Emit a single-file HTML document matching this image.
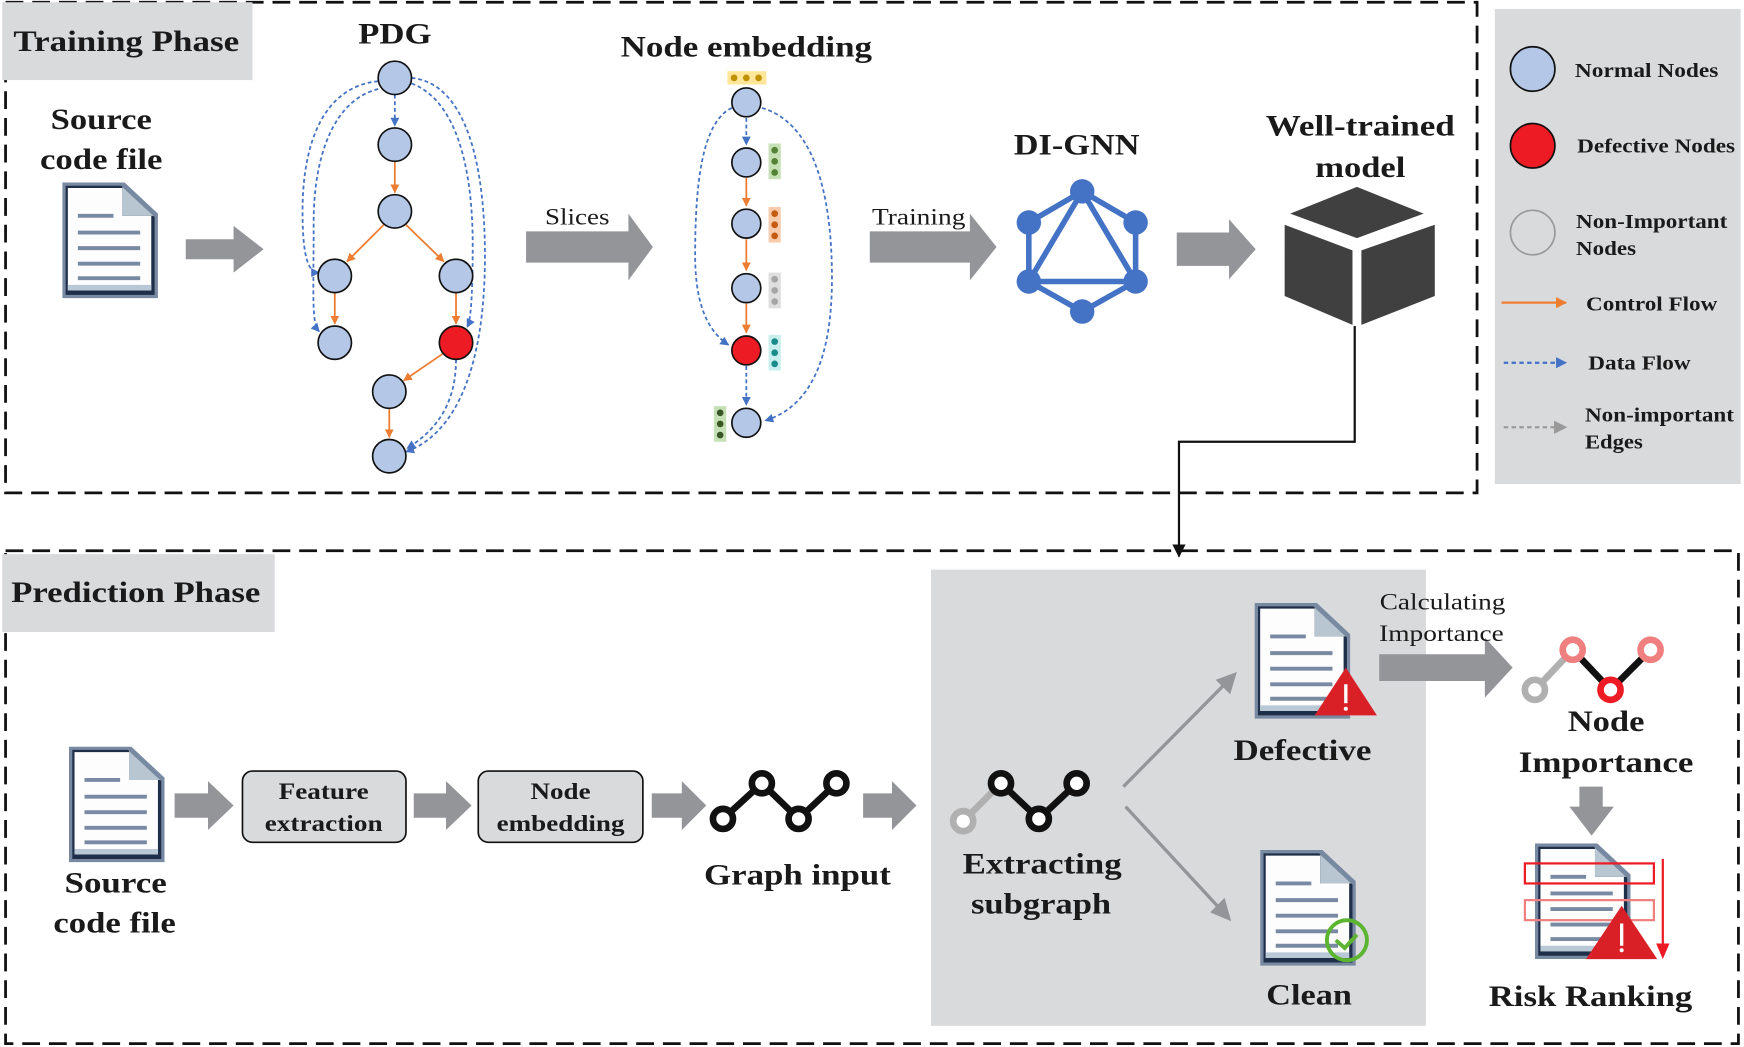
<!DOCTYPE html>
<html><head><meta charset="utf-8"><style>
html,body{margin:0;padding:0;background:#fff;}
svg{display:block;}
text{font-family:"Liberation Serif",serif;fill:#1a1a1a;}
.b{font-weight:bold;}
</style></head><body>
<svg width="1744" height="1047" viewBox="0 0 1568 941" preserveAspectRatio="none" xmlns="http://www.w3.org/2000/svg">
<defs>
<marker id="ao" viewBox="0 0 10 10" refX="9" refY="5" markerWidth="5" markerHeight="5" orient="auto"><path d="M0,0L10,5L0,10z" fill="#ed7d31"/></marker>
<marker id="ab" viewBox="0 0 10 10" refX="9" refY="5" markerWidth="5" markerHeight="5" orient="auto"><path d="M0,0L10,5L0,10z" fill="#4472c4"/></marker>
<marker id="ak" viewBox="0 0 10 10" refX="9" refY="5" markerWidth="6" markerHeight="6" orient="auto"><path d="M0,0L10,5L0,10z" fill="#111"/></marker>
<marker id="ag" viewBox="0 0 10 10" refX="9" refY="5" markerWidth="6" markerHeight="6" orient="auto"><path d="M0,0L10,5L0,10z" fill="#999"/></marker>
<symbol id="doc" viewBox="0 0 86 104">
<path d="M0,0H56L86,28V104H0Z" fill="#7889a2"/>
<path d="M3,3H53L83,31V101H3Z" fill="#1f2f4a"/>
<path d="M5,5H54V30H80V97H5Z" fill="#fdfdfd"/>
<path d="M5,92H80V97H5Z" fill="#b9c8d6"/>
<path d="M54,4L82,30H54Z" fill="#b8c6d2"/>
<g stroke="#7889a2" stroke-width="3.5"><line x1="14" y1="30" x2="46" y2="30"/><line x1="14" y1="45" x2="70" y2="45"/><line x1="14" y1="59" x2="70" y2="59"/><line x1="14" y1="73" x2="70" y2="73"/><line x1="14" y1="86" x2="70" y2="86"/></g>
</symbol>
</defs>

<rect x="5" y="2" width="1323" height="441" fill="none" stroke="#111" stroke-width="2.5" stroke-dasharray="16,8"/>
<rect x="5" y="495" width="1558" height="443" fill="none" stroke="#111" stroke-width="2.5" stroke-dasharray="16,8"/>
<rect x="2" y="2" width="225" height="70" fill="#d9dadc"/>
<text x="12" y="46" font-size="27" class="b" textLength="203" lengthAdjust="spacingAndGlyphs">Training Phase</text>
<rect x="2" y="498" width="245" height="70" fill="#d9dadc"/>
<text x="10" y="541" font-size="27" class="b" textLength="224" lengthAdjust="spacingAndGlyphs">Prediction Phase</text>
<rect x="837" y="512" width="445" height="410" fill="#d9dadc"/>

<!-- legend -->
<rect x="1344" y="8" width="221" height="427" fill="#d9dadc"/>
<circle cx="1378" cy="62" r="20" fill="#b4c7e7" stroke="#111" stroke-width="1.5"/>
<text x="1416" y="69" font-size="18" class="b" textLength="129" lengthAdjust="spacingAndGlyphs">Normal Nodes</text>
<circle cx="1378" cy="131" r="20" fill="#ed1c24" stroke="#111" stroke-width="1.5"/>
<text x="1418" y="137" font-size="18" class="b" textLength="142" lengthAdjust="spacingAndGlyphs">Defective Nodes</text>
<circle cx="1378" cy="209" r="20" fill="none" stroke="#999" stroke-width="1.5"/>
<text x="1417" y="205" font-size="18" class="b" textLength="136" lengthAdjust="spacingAndGlyphs">Non-Important</text>
<text x="1417" y="229" font-size="18" class="b" textLength="54" lengthAdjust="spacingAndGlyphs">Nodes</text>
<line x1="1350" y1="272" x2="1408" y2="272" stroke="#ed7d31" stroke-width="2" marker-end="url(#ao)"/>
<text x="1426" y="279" font-size="18" class="b" textLength="118" lengthAdjust="spacingAndGlyphs">Control Flow</text>
<line x1="1352" y1="326" x2="1408" y2="326" stroke="#4472c4" stroke-width="2" stroke-dasharray="4,3" marker-end="url(#ab)"/>
<text x="1428" y="332" font-size="18" class="b" textLength="92" lengthAdjust="spacingAndGlyphs">Data Flow</text>
<line x1="1352" y1="384" x2="1408" y2="384" stroke="#999" stroke-width="2" stroke-dasharray="4,3" marker-end="url(#ag)"/>
<text x="1425" y="379" font-size="18" class="b" textLength="134" lengthAdjust="spacingAndGlyphs">Non-important</text>
<text x="1425" y="403" font-size="18" class="b" textLength="52" lengthAdjust="spacingAndGlyphs">Edges</text>

<text x="91" y="116" font-size="27" class="b" text-anchor="middle" textLength="91" lengthAdjust="spacingAndGlyphs">Source</text>
<text x="91" y="152" font-size="27" class="b" text-anchor="middle" textLength="110" lengthAdjust="spacingAndGlyphs">code file</text>
<use href="#doc" x="56" y="164" width="86" height="104"/>
<g fill="#939598">
<path d="M167,215H210V203L237,224L210,245V233H167Z"/>
<path d="M473,208H565V192L587,222L565,252V236H473Z"/>
<path d="M782,208H872V192L896,222L872,252V236H782Z"/>
<path d="M1058,209H1105V197L1129,224L1105,251V239H1058Z"/>
</g>
<text x="519" y="202" font-size="21" text-anchor="middle" textLength="58" lengthAdjust="spacingAndGlyphs">Slices</text>
<text x="826" y="202" font-size="21" text-anchor="middle" textLength="84" lengthAdjust="spacingAndGlyphs">Training</text>

<!-- PDG -->
<text x="355" y="39" font-size="27" class="b" text-anchor="middle" textLength="66" lengthAdjust="spacingAndGlyphs">PDG</text>
<g fill="none" stroke-width="1.6">
<g stroke="#4472c4" stroke-dasharray="3.5,2.5">
<line x1="355" y1="85" x2="355" y2="113" marker-end="url(#ab)"/>
<path d="M340,73C290,78 272,130 272,190C272,240 280,245 287,245" marker-end="url(#ab)"/>
<path d="M340,80C300,90 282,140 282,200C282,270 280,290 287,298" marker-end="url(#ab)"/>
<path d="M370,75C410,90 425,150 425,220C425,280 422,290 420,294" marker-end="url(#ab)"/>
<path d="M370,70C420,75 436,150 436,230C436,330 410,390 365,406" marker-end="url(#ab)"/>
<path d="M410,323C410,360 395,385 366,403" marker-end="url(#ab)"/>
</g>
<g stroke="#ed7d31">
<line x1="355" y1="145" x2="355" y2="173" marker-end="url(#ao)"/>
<line x1="345" y1="202" x2="312" y2="235" marker-end="url(#ao)"/>
<line x1="365" y1="202" x2="399" y2="235" marker-end="url(#ao)"/>
<line x1="301" y1="263" x2="301" y2="291" marker-end="url(#ao)"/>
<line x1="410" y1="263" x2="410" y2="291" marker-end="url(#ao)"/>
<line x1="398" y1="318" x2="363" y2="342" marker-end="url(#ao)"/>
<line x1="350" y1="367" x2="350" y2="393" marker-end="url(#ao)"/>
</g>
</g>
<g stroke="#111" stroke-width="1.5" fill="#b4c7e7">
<circle cx="355" cy="70" r="15"/><circle cx="355" cy="130" r="15"/><circle cx="355" cy="190" r="15"/>
<circle cx="301" cy="248" r="15"/><circle cx="410" cy="248" r="15"/><circle cx="301" cy="308" r="15"/>
<circle cx="410" cy="308" r="15" fill="#ed1c24"/><circle cx="350" cy="352" r="15"/><circle cx="350" cy="410" r="15"/>
</g>

<!-- Node embedding -->
<text x="671" y="51" font-size="27" class="b" text-anchor="middle" textLength="226" lengthAdjust="spacingAndGlyphs">Node embedding</text>
<g fill="none" stroke-width="1.6">
<g stroke="#4472c4" stroke-dasharray="3.5,2.5">
<line x1="671" y1="106" x2="671" y2="130" marker-end="url(#ab)"/>
<line x1="671" y1="329" x2="671" y2="364" marker-end="url(#ab)"/>
<path d="M658,97C630,110 625,170 625,230C625,280 640,300 655,310" marker-end="url(#ab)"/>
<path d="M685,97C730,110 748,170 748,250C748,320 730,365 688,378" marker-end="url(#ab)"/>
</g>
<g stroke="#ed7d31">
<line x1="671" y1="160" x2="671" y2="185" marker-end="url(#ao)"/>
<line x1="671" y1="215" x2="671" y2="243" marker-end="url(#ao)"/>
<line x1="671" y1="273" x2="671" y2="299" marker-end="url(#ao)"/>
</g>
</g>
<g stroke="#111" stroke-width="1.5" fill="#b4c7e7">
<circle cx="671" cy="92" r="13"/><circle cx="671" cy="146" r="13"/><circle cx="671" cy="201" r="13"/>
<circle cx="671" cy="259" r="13"/><circle cx="671" cy="315" r="13" fill="#ed1c24"/><circle cx="671" cy="380" r="13"/>
</g>
<rect x="654" y="64" width="35" height="12" fill="#ffe699"/>
<g fill="#bf9000"><circle cx="660" cy="70" r="3"/><circle cx="671" cy="70" r="3"/><circle cx="682" cy="70" r="3"/></g>
<rect x="691" y="129" width="11" height="32" fill="#c5e0b4"/>
<g fill="#548235"><circle cx="696.5" cy="135" r="3"/><circle cx="696.5" cy="145" r="3"/><circle cx="696.5" cy="155" r="3"/></g>
<rect x="691" y="186" width="11" height="32" fill="#f8cbad"/>
<g fill="#c55a11"><circle cx="696.5" cy="192" r="3"/><circle cx="696.5" cy="202" r="3"/><circle cx="696.5" cy="212" r="3"/></g>
<rect x="691" y="245" width="11" height="32" fill="#dedede"/>
<g fill="#a5a5a5"><circle cx="696.5" cy="251" r="3"/><circle cx="696.5" cy="261" r="3"/><circle cx="696.5" cy="271" r="3"/></g>
<rect x="691" y="301" width="11" height="32" fill="#c9eeee"/>
<g fill="#1a8b8b"><circle cx="696.5" cy="307" r="3"/><circle cx="696.5" cy="317" r="3"/><circle cx="696.5" cy="327" r="3"/></g>
<rect x="642" y="365" width="11" height="32" fill="#c5e0b4"/>
<g fill="#375623"><circle cx="647.5" cy="371" r="3"/><circle cx="647.5" cy="381" r="3"/><circle cx="647.5" cy="391" r="3"/></g>

<!-- DI-GNN -->
<text x="968" y="139" font-size="27" class="b" text-anchor="middle" textLength="113" lengthAdjust="spacingAndGlyphs">DI-GNN</text>
<g stroke="#4472c4" stroke-width="5" fill="none">
<path d="M973,172L1021,200L1021,253L973,280L925,253L925,200Z"/>
<path d="M973,172L925,253L1021,253Z"/>
</g>
<g fill="#4472c4"><circle cx="973" cy="172" r="11"/><circle cx="925" cy="200" r="11"/><circle cx="1021" cy="200" r="11"/><circle cx="925" cy="253" r="11"/><circle cx="1021" cy="253" r="11"/><circle cx="973" cy="280" r="11"/></g>

<!-- Well-trained model -->
<text x="1223" y="122" font-size="27" class="b" text-anchor="middle" textLength="170" lengthAdjust="spacingAndGlyphs">Well-trained</text>
<text x="1223" y="159" font-size="27" class="b" text-anchor="middle" textLength="81" lengthAdjust="spacingAndGlyphs">model</text>
<g fill="#404040">
<path d="M1160,192L1220,168L1280,192L1220,214Z"/>
<path d="M1155,202L1216,225V292L1155,266Z"/>
<path d="M1224,225L1290,202V266L1224,292Z"/>
</g>
<path d="M1218,293V397H1060V500" fill="none" stroke="#111" stroke-width="2" marker-end="url(#ak)"/>

<!-- prediction -->
<use href="#doc" x="62" y="671" width="86" height="104"/>
<text x="104" y="802" font-size="27" class="b" text-anchor="middle" textLength="92" lengthAdjust="spacingAndGlyphs">Source</text>
<text x="103" y="838" font-size="27" class="b" text-anchor="middle" textLength="110" lengthAdjust="spacingAndGlyphs">code file</text>
<g fill="#939598">
<path d="M157,713H187V702L210,724L187,746V735H157Z"/>
<path d="M372,713H401V702L424,724L401,746V735H372Z"/>
<path d="M586,713H613V702L635,724L613,746V735H586Z"/>
<path d="M776,713H802V702L824,724L802,746V735H776Z"/>
<path d="M1240,588H1335V573L1360,600L1335,627V612H1240Z"/>
<path d="M1420,707H1441V725H1451L1431,751L1411,725H1420Z"/>
</g>
<rect x="218" y="693" width="147" height="64" rx="9" fill="#d9dadc" stroke="#111" stroke-width="1.5"/>
<text x="291" y="718" font-size="21" class="b" text-anchor="middle" textLength="81" lengthAdjust="spacingAndGlyphs">Feature</text>
<text x="291" y="747" font-size="21" class="b" text-anchor="middle" textLength="106" lengthAdjust="spacingAndGlyphs">extraction</text>
<rect x="430" y="693" width="148" height="64" rx="9" fill="#d9dadc" stroke="#111" stroke-width="1.5"/>
<text x="504" y="718" font-size="21" class="b" text-anchor="middle" textLength="54" lengthAdjust="spacingAndGlyphs">Node</text>
<text x="504" y="747" font-size="21" class="b" text-anchor="middle" textLength="115" lengthAdjust="spacingAndGlyphs">embedding</text>

<g stroke="#111" stroke-width="6" fill="none"><path d="M650,736L685,704L718,736L752,704"/></g>
<g fill="#fff" stroke="#111" stroke-width="6"><circle cx="650" cy="736" r="9"/><circle cx="685" cy="704" r="9"/><circle cx="718" cy="736" r="9"/><circle cx="752" cy="704" r="9"/></g>
<text x="717" y="795" font-size="27" class="b" text-anchor="middle" textLength="168" lengthAdjust="spacingAndGlyphs">Graph input</text>

<line x1="866" y1="738" x2="900" y2="704" stroke="#b0b0b0" stroke-width="6"/>
<g stroke="#111" stroke-width="6" fill="none"><path d="M900,704L934,736L968,704"/></g>
<circle cx="866" cy="738" r="9" fill="#fff" stroke="#b0b0b0" stroke-width="6"/>
<g fill="#fff" stroke="#111" stroke-width="6"><circle cx="900" cy="704" r="9"/><circle cx="934" cy="736" r="9"/><circle cx="968" cy="704" r="9"/></g>
<text x="937" y="785" font-size="27" class="b" text-anchor="middle" textLength="143" lengthAdjust="spacingAndGlyphs">Extracting</text>
<text x="936" y="821" font-size="27" class="b" text-anchor="middle" textLength="126" lengthAdjust="spacingAndGlyphs">subgraph</text>
<g stroke="#939598" stroke-width="3"><line x1="1010" y1="707" x2="1102" y2="614"/><line x1="1012" y1="725" x2="1098" y2="818"/></g>
<path d="M1112,604L1106,624L1093,611Z" fill="#939598"/>
<path d="M1107,828L1088,820L1101,807Z" fill="#939598"/>

<use href="#doc" x="1128" y="542" width="86" height="104"/>
<path d="M1210,600L1238,643H1182Z" fill="#d92027"/>
<line x1="1210" y1="615" x2="1210" y2="632" stroke="#fff" stroke-width="3"/><circle cx="1210" cy="637" r="1.8" fill="#fff"/>
<text x="1171" y="683" font-size="27" class="b" text-anchor="middle" textLength="124" lengthAdjust="spacingAndGlyphs">Defective</text>
<use href="#doc" x="1133" y="764" width="86" height="104"/>
<circle cx="1211" cy="845" r="18" fill="none" stroke="#5cb531" stroke-width="3.5"/>
<path d="M1201,845L1209,852L1220,840" fill="none" stroke="#5cb531" stroke-width="3.5"/>
<text x="1177" y="903" font-size="27" class="b" text-anchor="middle" textLength="77" lengthAdjust="spacingAndGlyphs">Clean</text>

<text x="1297" y="548" font-size="21" text-anchor="middle" textLength="113" lengthAdjust="spacingAndGlyphs">Calculating</text>
<text x="1296" y="576" font-size="21" text-anchor="middle" textLength="112" lengthAdjust="spacingAndGlyphs">Importance</text>
<line x1="1380" y1="620" x2="1414" y2="584" stroke="#b0b0b0" stroke-width="6"/>
<g stroke="#111" stroke-width="6" fill="none"><path d="M1414,584L1448,620L1484,584"/></g>
<circle cx="1380" cy="620" r="9" fill="#fff" stroke="#b0b0b0" stroke-width="6"/>
<circle cx="1414" cy="584" r="9" fill="#fff" stroke="#f08080" stroke-width="6"/>
<circle cx="1484" cy="584" r="9" fill="#fff" stroke="#f08080" stroke-width="6"/>
<circle cx="1448" cy="620" r="9" fill="#fff" stroke="#ed1c24" stroke-width="6"/>
<text x="1444" y="657" font-size="27" class="b" text-anchor="middle" textLength="69" lengthAdjust="spacingAndGlyphs">Node</text>
<text x="1444" y="694" font-size="27" class="b" text-anchor="middle" textLength="157" lengthAdjust="spacingAndGlyphs">Importance</text>

<use href="#doc" x="1380" y="758" width="86" height="104"/>
<rect x="1371" y="776" width="116" height="18" fill="none" stroke="#ed1c24" stroke-width="2"/>
<rect x="1371" y="809" width="116" height="18" fill="none" stroke="#f08080" stroke-width="2"/>
<path d="M1458,814L1490,862H1426Z" fill="#d92027"/>
<line x1="1458" y1="830" x2="1458" y2="850" stroke="#fff" stroke-width="3"/><circle cx="1458" cy="854" r="1.8" fill="#fff"/>
<line x1="1495" y1="772" x2="1495" y2="852" stroke="#ed1c24" stroke-width="2"/>
<path d="M1489,848L1501,848L1495,862Z" fill="#ed1c24"/>
<text x="1430" y="904" font-size="27" class="b" text-anchor="middle" textLength="183" lengthAdjust="spacingAndGlyphs">Risk Ranking</text>
</svg>
</body></html>
